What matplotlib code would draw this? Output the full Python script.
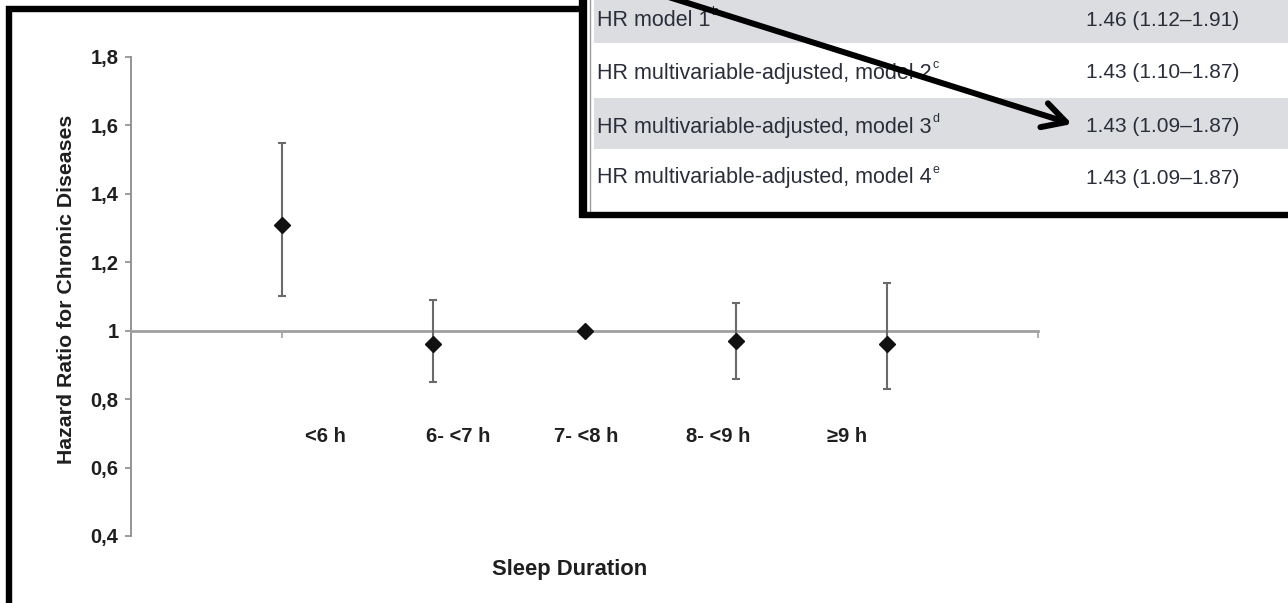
import matplotlib
matplotlib.use("Agg")
import matplotlib.pyplot as plt
from matplotlib.patches import Rectangle, FancyArrowPatch
from matplotlib.lines import Line2D
import matplotlib.font_manager as fm

# ---------------- data ----------------
categories = ['<6 h', '6- <7 h', '7- <8 h', '8- <9 h', '≥9 h']
hr = [1.31, 0.96, 1.00, 0.97, 0.96]
ci_low = [1.10, 0.85, 1.00, 0.86, 0.83]
ci_high = [1.55, 1.09, 1.00, 1.08, 1.14]
is_reference = [False, False, True, False, False]

y_ticks = [0.4, 0.6, 0.8, 1.0, 1.2, 1.4, 1.6, 1.8]
y_tick_labels = ['0,4', '0,6', '0,8', '1', '1,2', '1,4', '1,6', '1,8']

table_labels = ['HR model 1', 'HR multivariable-adjusted, model 2',
                'HR multivariable-adjusted, model 3', 'HR multivariable-adjusted, model 4']
table_sups = ['b', 'c', 'd', 'e']
table_values = ['1.46 (1.12–1.91)', '1.43 (1.10–1.87)',
                '1.43 (1.09–1.87)', '1.43 (1.09–1.87)']

# ---------------- layout ----------------
W, H = 1288, 603
def fx(px):
    return px / W
def fy(py):
    return 1 - py / H

chart_font = ['Liberation Sans', 'DejaVu Sans']
names = {f.name for f in fm.fontManager.ttflist}
table_font = ['Liberation Sans Narrow', 'DejaVu Sans'] if 'Liberation Sans Narrow' in names else ['Liberation Sans', 'DejaVu Sans']
text_col = '#1f1f1f'
axis_col = '#8c8c8c'

fig = plt.figure(figsize=(W / 100, H / 100), dpi=100)
fig.patch.set_facecolor('white')

ax = fig.add_axes([fx(131), fy(536), (1038 - 131) / W, (536 - 57) / H])
ax.set_xlim(0, 6)
ax.set_ylim(0.4, 1.8)

x = list(range(1, len(categories) + 1))

for xi, h, lo, hi, ref in zip(x, hr, ci_low, ci_high, is_reference):
    if not ref:
        ax.errorbar([xi], [h], yerr=[[h - lo], [hi - h]], fmt='none',
                    ecolor='#6a6a6a', elinewidth=1.5, capsize=3.2, capthick=1.5, zorder=3)
ax.plot(x, hr, linestyle='none', marker='D', markersize=8, color='#111111', zorder=4)

# spines
for s in ['top', 'right']:
    ax.spines[s].set_visible(False)
ax.spines['left'].set_color(axis_col)
ax.spines['left'].set_linewidth(1.3)
ax.spines['bottom'].set_position(('data', 1.0))
ax.spines['bottom'].set_color('#a0a0a0')
ax.spines['bottom'].set_linewidth(2.0)

ax.set_yticks(y_ticks)
ax.set_yticklabels(y_tick_labels, fontsize=14.5, fontweight='bold', color=text_col, family=chart_font)
ax.tick_params(axis='y', length=4, width=1.2, color=axis_col, pad=5)
ax.set_xticks([1, 2, 3, 4, 5, 6])
ax.set_xticklabels([])
ax.tick_params(axis='x', length=5, width=1.2, color='#a0a0a0', direction='out')

# category labels (typed text boxes in the original)
label_x = [1.283, 2.163, 3.009, 3.882, 4.735]
for lx, c in zip(label_x, categories):
    ax.text(lx, 0.69, c, ha='center', va='center', fontsize=14.5, fontweight='bold',
            color=text_col, family=chart_font)

fig.text(fx(67), fy(289), 'Hazard Ratio for Chronic Diseases', rotation=90, ha='center', va='center',
         fontsize=15.3, fontweight='bold', color=text_col, family=chart_font)
fig.text(fx(570), fy(570), 'Sleep Duration', ha='center', va='center',
         fontsize=15.8, fontweight='bold', color=text_col, family=chart_font)

# outer frame of the chart picture
fig.add_artist(Line2D([fx(9), fx(9)], [fy(6), fy(610)], color='black', lw=4.6,
                      transform=fig.transFigure, solid_capstyle='butt'))
fig.add_artist(Line2D([fx(6), fx(582)], [fy(9), fy(9)], color='black', lw=4.6,
                      transform=fig.transFigure, solid_capstyle='butt'))

# ---------------- inset table ----------------
row_edges = [0, 43, 98, 149, 212]
row_centers = [20, 73, 127, 178]
fig.add_artist(Rectangle((fx(580), fy(216)), fx(1300) - fx(580), fy(-5) - fy(216),
                         transform=fig.transFigure, facecolor='white', edgecolor='none', zorder=5))
for i in range(len(table_labels)):
    if i % 2 == 0:
        top, bot = row_edges[i], row_edges[i + 1]
        fig.add_artist(Rectangle((fx(594), fy(bot)), fx(1300) - fx(594), fy(top) - fy(bot),
                                 transform=fig.transFigure, facecolor='#dcdde1',
                                 edgecolor='none', zorder=5.1))
fig.add_artist(Line2D([fx(590), fx(590)], [fy(-2), fy(212)], color='#9a9a9a', lw=1.0,
                      transform=fig.transFigure, zorder=5.2))
fig.add_artist(Line2D([fx(583), fx(583)], [fy(-2), fy(218)], color='black', lw=6,
                      transform=fig.transFigure, zorder=5.3, solid_capstyle='butt'))
fig.add_artist(Line2D([fx(580), fx(1300)], [fy(215), fy(215)], color='black', lw=4.6,
                      transform=fig.transFigure, zorder=5.3, solid_capstyle='butt'))

table_col = '#2a2e3a'
row_texts = []
for lab, sup, val, yc in zip(table_labels, table_sups, table_values, row_centers):
    t = fig.text(fx(597), fy(yc), lab, ha='left', va='center', fontsize=15.5,
                 color=table_col, family=table_font, zorder=6)
    fig.text(fx(1086), fy(yc), val, ha='left', va='center', fontsize=15,
             color=table_col, family=table_font, zorder=6)
    row_texts.append((t, sup, yc))

fig.canvas.draw()
r = fig.canvas.get_renderer()
for t, sup, yc in row_texts:
    bb = t.get_window_extent(r)
    fig.text(fx(bb.x1 + 1), fy(yc - 8), sup, ha='left', va='center', fontsize=9,
             color=table_col, family=table_font, zorder=6)

# arrow
arr = FancyArrowPatch((fx(640), fy(-12)), (fx(1072), fy(124)), transform=fig.transFigure,
                      arrowstyle='->,head_length=1.65,head_width=0.9', mutation_scale=10,
                      lw=4.3, color='black', zorder=7, shrinkA=0, shrinkB=0,
                      capstyle='round', joinstyle='round')
fig.add_artist(arr)

fig.savefig('out.png', dpi=100)
